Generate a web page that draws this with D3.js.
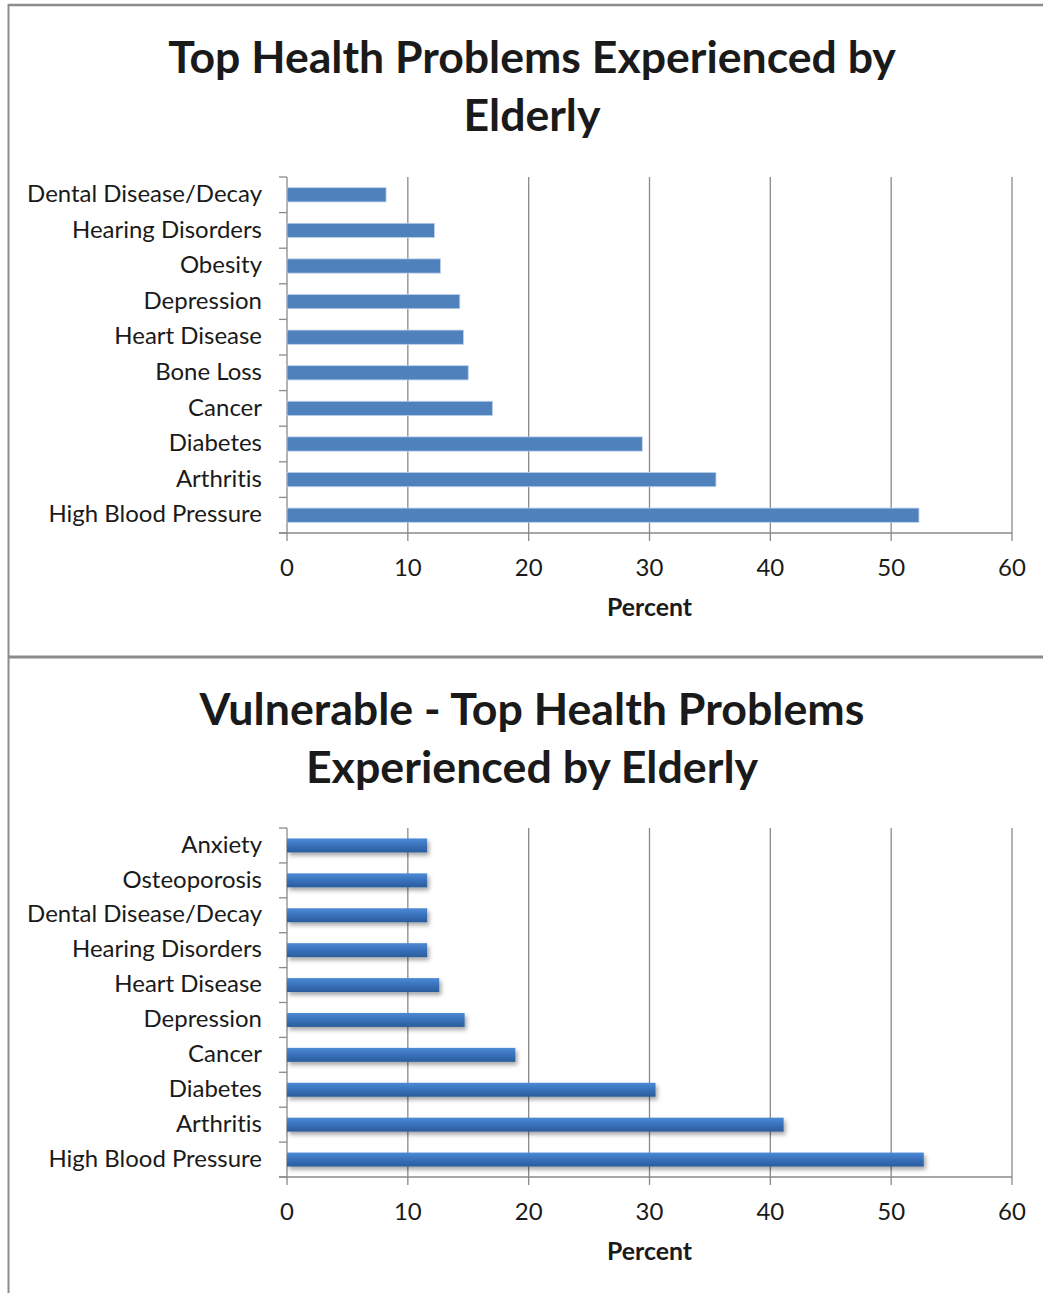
<!DOCTYPE html>
<html><head><meta charset="utf-8">
<script src="https://cdn.jsdelivr.net/npm/d3@7"></script>
<style>body{margin:0;background:#fff}svg{display:block}text{font-family:Lato,"Open Sans",sans-serif;fill:#1a1a1a;font-variant-ligatures:none;font-feature-settings:"liga" 0}</style>
</head><body>
<script>
const categories1 = ["Dental Disease/Decay","Hearing Disorders","Obesity","Depression","Heart Disease","Bone Loss","Cancer","Diabetes","Arthritis","High Blood Pressure"];
const values1 = [8.2, 12.2, 12.7, 14.3, 14.6, 15.0, 17.0, 29.4, 35.5, 52.3];
const categories2 = ["Anxiety","Osteoporosis","Dental Disease/Decay","Hearing Disorders","Heart Disease","Depression","Cancer","Diabetes","Arthritis","High Blood Pressure"];
const values2 = [11.6, 11.6, 11.6, 11.6, 12.6, 14.7, 18.9, 30.5, 41.1, 52.7];
const xTicks = [0,10,20,30,40,50,60];
const title1 = ["Top Health Problems Experienced by","Elderly"];
const title2 = ["Vulnerable - Top Health Problems","Experienced by Elderly"];
const xLabel = "Percent";

const W=1043,H=1293;
const svg=d3.select("body").append("svg").attr("width",W).attr("height",H);
const defs=svg.append("defs");
const g=defs.append("linearGradient").attr("id","grad").attr("x1",0).attr("y1",0).attr("x2",0).attr("y2",1);
g.append("stop").attr("offset","0%").attr("stop-color","#4d8ad6");
g.append("stop").attr("offset","45%").attr("stop-color","#3b73bd");
g.append("stop").attr("offset","100%").attr("stop-color","#2a5c9c");
const f=defs.append("filter").attr("id","shadow").attr("x","-10%").attr("y","-50%").attr("width","130%").attr("height","250%");
f.append("feDropShadow").attr("dx",2).attr("dy",3).attr("stdDeviation",2).attr("flood-color","#000").attr("flood-opacity",0.35);

// panel borders
svg.append("line").attr("x1",8).attr("x2",W).attr("y1",5).attr("y2",5).attr("stroke","#8c8c8c").attr("stroke-width",2.5);
svg.append("line").attr("x1",8.5).attr("x2",8.5).attr("y1",4).attr("y2",H).attr("stroke","#8c8c8c").attr("stroke-width",2);
svg.append("line").attr("x1",8).attr("x2",W).attr("y1",657).attr("y2",657).attr("stroke","#8c8c8c").attr("stroke-width",3);

function fit(sel, target){
  const w=sel.node().getComputedTextLength();
  const fs=parseFloat(sel.attr("font-size"));
  sel.attr("font-size", fs*target/w);
  return fs*target/w;
}

function chart(cats, vals, top, bottom, titleLines, titleY, titleW, styled){
  const x=d3.scaleLinear().domain([0,60]).range([287,1012]);
  const y=d3.scaleBand().domain(cats).range([top,bottom]).padding(0);
  const gg=svg.append("g");
  let tfs=null;
  titleLines.forEach((t,i)=>{
    const el=gg.append("text").attr("x",532).attr("y",titleY+i*57.5).attr("text-anchor","middle")
      .attr("font-weight","bold").attr("font-size",40).text(t);
    if(i===0){tfs=fit(el,titleW);} else el.attr("font-size",tfs);
  });
  gg.selectAll(".grid").data(xTicks.slice(1)).join("line")
    .attr("x1",d=>x(d)).attr("x2",d=>x(d)).attr("y1",top).attr("y2",bottom+8)
    .attr("stroke","#8a8a8a").attr("stroke-width",1.3);
  gg.append("line").attr("x1",x(0)).attr("x2",x(0)).attr("y1",top).attr("y2",bottom+8).attr("stroke","#8a8a8a").attr("stroke-width",1.3);
  const bounds=cats.map(c=>y(c)).concat([bottom]);
  gg.selectAll(".yt").data(bounds).join("line")
    .attr("x1",x(0)-8).attr("x2",x(0)).attr("y1",d=>d).attr("y2",d=>d).attr("stroke","#8a8a8a").attr("stroke-width",1.3);
  gg.append("line").attr("x1",x(0)-8).attr("x2",x(60)).attr("y1",bottom).attr("y2",bottom).attr("stroke","#8a8a8a").attr("stroke-width",1.3);
  const bh=y.bandwidth()*0.4;
  const bars=gg.selectAll(".bar").data(cats).join("rect")
    .attr("x",x(0)).attr("y",(c)=>y(c)+y.bandwidth()/2-bh/2)
    .attr("width",(c,i)=>x(vals[i])-x(0)).attr("height",bh);
  if(styled){
    bars.attr("fill","url(#grad)").attr("filter","url(#shadow)");
  } else {
    bars.attr("fill","#4f81bd").attr("stroke","#bcd0ea").attr("stroke-width",0.8);
  }
  const labs=gg.selectAll(".cl").data(cats).join("text")
    .attr("x",262).attr("y",c=>y(c)+y.bandwidth()/2).attr("dy","0.3em")
    .attr("text-anchor","end").attr("font-size",22).text(c=>c);
  const dd=labs.filter(c=>c==="Dental Disease/Decay");
  const lfs=fit(dd,235);
  labs.attr("font-size",lfs);
  gg.selectAll(".xl").data(xTicks).join("text")
    .attr("x",d=>x(d)).attr("y",bottom+35).attr("dy","0.32em").attr("text-anchor","middle")
    .attr("font-size",lfs).text(d=>d);
  const pl=gg.append("text").attr("x",649.5).attr("y",bottom+74).attr("dy","0.36em").attr("text-anchor","middle")
    .attr("font-weight","bold").attr("font-size",20).text(xLabel);
  fit(pl,85);
}
chart(categories1, values1, 177, 533, title1, 73, 728, false);
chart(categories2, values2, 828, 1177, title2, 725, 665, true);
</script>
</body></html>
